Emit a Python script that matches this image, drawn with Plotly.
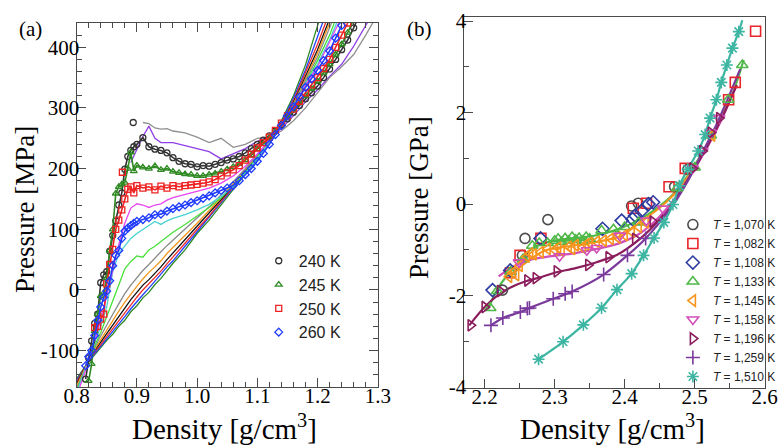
import plotly.graph_objects as go

# ---------------- Panel (a) data ----------------
XA = [0.80, 0.81, 0.82, 0.83, 0.84, 0.85, 0.86, 0.87, 0.88, 0.89, 0.90, 0.91, 0.92, 0.93, 0.94, 0.95, 0.96,
      0.98, 1.00, 1.02, 1.04, 1.06, 1.08, 1.10, 1.12, 1.14, 1.16, 1.18, 1.20, 1.22, 1.24, 1.26, 1.28, 1.30]

LINE_GREEN = [-146, -131, -118, -107, -95, -83, -73, -60, -50, -36, -26, -13, -4, 9, 19, 32, 44, 66, 93, 115,
              141, 165, 191, 216, 244, 279, 320, 371, 432, 500]
LINE_BLUE = [-149, -133, -118, -105, -93, -80, -68, -56, -44, -31, -19, -8, 3, 14, 26, 38, 48, 72, 96, 119,
             143, 168, 192, 218, 244, 276, 316, 363, 416, 472]
LINE_RED = [-152, -134, -117, -103, -90, -76, -63, -50, -38, -24, -12, 0, 10, 20, 31, 43, 54, 77, 100, 122,
            146, 170, 194, 219, 244, 274, 312, 357, 405, 458]
LINE_BLACK = [-155, -136, -116, -100, -86, -71, -57, -43, -30, -16, -4, 8, 17, 27, 38, 50, 61, 82, 104, 126,
              149, 172, 196, 220, 245, 273, 309, 352, 396, 447]
LINE_ORANGE = [-158, -137, -116, -98, -82, -65, -50, -35, -20, -6, 6, 18, 29, 38, 48, 60, 70, 89, 110, 131,
               152, 175, 198, 221, 245, 272, 307, 348, 390, 440, 495]
LINE_GRAY = [-162, -139, -115, -95, -76, -57, -40, -23, -6, 8, 20, 32, 42, 53, 63, 73, 82, 100, 118, 137,
             157, 178, 200, 223, 246, 271, 305, 345, 384, 432, 485]
LINE_LGREEN = [-166, -141, -116, -92, -70, -45, -20, 8, 35, 47, 56, 54, 66, 72, 80, 88, 95, 108, 122, 136,
               152, 172, 194, 219, 245, 270, 304, 342, 378, 420, 472]
LINE_CYAN = [-170, -143, -117, -88, -60, -28, 30, 60, 72, 85, 93, 100, 107, 113, 108, 114, 118, 124, 132, 141,
             154, 170, 192, 217, 244, 268, 303, 340, 372, 412, 460]
LINE_MAGENTA = [-175, -146, -118, -85, -50, -10, 35, 75, 110, 135, 142, 140, 136, 140, 142, 148, 152, 157, 162, 168,
                176, 188, 204, 224, 246, 266, 302, 338, 368, 408, 450]
LINE_PURPLE = [None, None, None, None, None, None, None, None, None, 210, 232, 253, 270, 250, 243, 243, 243, 238,
               233, 228, 216, 225, 233, 245, 253, 266, 287, 310, 330, 352, 372, 402, 436, 470]
LINE_GRAYTOP = [None, None, None, None, None, None, None, None, None, None, None, 276, 274, 267, 265, 266, 262, 259,
                252, 243, 250, 235, 240, 250, 252, 262, 279, 300, 326, 350, 368, 388, 420, 455]

XM = [0.815, 0.82, 0.825, 0.83, 0.835, 0.84, 0.845, 0.85, 0.855, 0.86, 0.865, 0.87, 0.875, 0.88, 0.885, 0.89, 0.895,
      0.90, 0.91, 0.92, 0.93, 0.94, 0.95, 0.96, 0.97, 0.98, 0.99, 1.00, 1.01, 1.02, 1.03, 1.04, 1.05, 1.06, 1.07,
      1.08, 1.09, 1.10, 1.11, 1.12, 1.13, 1.14, 1.15, 1.16, 1.17, 1.18, 1.19, 1.20, 1.21, 1.22, 1.23, 1.24, 1.25,
      1.26, 1.27]
P240 = [-147, -112, -84, -55, -40, 12, 25, 30, 64, 90, 114, 140, 160, 199, 220, 230, 236,
        240, 251, 236, 232, 230, 226, 218, 212, 208, 207, 203, 205, 204, 207, 210, 214, 216, 220,
        226, 233, 240, 247, 254, 262, 272, 282, 293, 304, 315, 325, 336, 350, 364, 380, 396, 412, 432, 455]
P245 = [None, -150, -122, -68, -40, -10, -5, 20, 65, 100, 159, 170, 174, 177, 200, 227, 196,
        205, 202, 200, 204, 198, 200, 195, 193, 191, 190, 188, 188, 190, 192, 195, 199, 203, 208,
        214, 222, 232, 241, 250, 261, 272, 284, 296, 308, 320, 332, 344, 358, 372, 388, 405, 424, 446, None]
P250 = [None, None, None, -62, -60, -48, -40, 10, 42, 67, 100, 115, 132, 150, 166, 170, 160,
        172, 168, 170, 165, 171, 168, 172, 170, 172, 173, 174, 176, 178, 182, 188, 193, 198, 205,
        214, 224, 234, 243, 252, 263, 275, 287, 298, 311, 325, 338, 350, 365, 380, 400, 420, 440, None, None]
P260 = [-125, -110, -100, -75, -50, -28, -12, -2, 15, 40, 57, 65, 85, 97, 102, 106, 110,
        113, 116, 119, 124, 125, 130, 134, 137, 140, 144, 147, 151, 155, 160, 164, 168, 172, 180,
        190, 200, 212, 225, 240, 256, 271, 287, 302, 318, 334, 348, 362, 378, 394, 415, 436, None, None, None]
# isolated outlying points
OUT240_X = [0.894]
OUT240_Y = [276]
OUT250_X = [0.876]
OUT250_Y = [194]

A_LABELS = ["240 K", "245 K", "250 K", "260 K"]
A_XTICKS = [0.8, 0.9, 1.0, 1.1, 1.2, 1.3]
A_YTICKS = [-100, 0, 100, 200, 300, 400]

# ---------------- Panel (b) data ----------------
B_1070_X = [2.2255, 2.2539, 2.2577, 2.2903, 2.4099, 2.4194, 2.4713, 2.4903]
B_1070_Y = [-1.88, -1.12, -0.75, -0.34, -0.04, 0.02, 0.38, 0.76]
B_1082_X = [2.237, 2.2506, 2.2804, 2.4123, 2.4312, 2.4634, 2.4865, 2.5485, 2.558, 2.587]
B_1082_Y = [-1.50, -1.12, -0.75, -0.09, 0.02, 0.38, 0.78, 2.28, 2.66, 3.78]
B_1108_X = [2.2113, 2.2365, 2.2799, 2.3684, 2.3957, 2.4113, 2.415, 2.424, 2.434, 2.4407]
B_1108_Y = [-1.88, -1.45, -0.75, -0.54, -0.36, -0.33, -0.25, -0.15, 0.0, 0.04]
B_1133_X = [2.208, 2.218, 2.237, 2.255, 2.268, 2.278, 2.29, 2.30, 2.305, 2.31, 2.315, 2.32, 2.325, 2.33, 2.335,
            2.34, 2.345, 2.35, 2.367, 2.384, 2.40, 2.42, 2.475, 2.50, 2.523, 2.548, 2.568]
B_1133_Y = [-2.27, -1.9, -1.48, -1.2, -0.91, -0.85, -0.85, -0.8, -0.76, -0.83, -0.75, -0.8, -0.72, -0.78, -0.74,
            -0.8, -0.72, -0.76, -0.58, -0.55, -0.5, -0.4, 0.35, 0.8, 1.5, 2.28, 3.04]
B_1133_LX = [2.205, 2.215, 2.225, 2.24, 2.255, 2.27, 2.29, 2.31, 2.33, 2.36, 2.39, 2.42, 2.445, 2.465, 2.48, 2.50,
             2.52, 2.54, 2.555, 2.57]
B_1133_LY = [-2.3, -1.95, -1.7, -1.42, -1.15, -0.95, -0.83, -0.77, -0.74, -0.68, -0.55, -0.35, -0.1, 0.15, 0.4,
             0.85, 1.35, 1.95, 2.45, 3.15]
B_1145_X = [2.235, 2.24, 2.245, 2.25, 2.26, 2.265, 2.27, 2.28, 2.29, 2.30, 2.305, 2.31, 2.32, 2.325, 2.33, 2.34,
            2.345, 2.35, 2.36, 2.37, 2.38, 2.39, 2.40, 2.41, 2.42, 2.43, 2.525]
B_1145_Y = [-1.59, -1.5, -1.55, -1.35, -1.15, -1.08, -1.1, -1.05, -0.98, -1.0, -0.95, -1.02, -0.93, -0.98, -0.9,
            -0.95, -0.88, -0.85, -0.82, -0.8, -0.76, -0.73, -0.68, -0.6, -0.5, -0.4, 1.5]
B_1145_LX = [2.235, 2.24, 2.263, 2.287, 2.311, 2.358, 2.396, 2.419, 2.44, 2.46, 2.48, 2.50, 2.52, 2.54, 2.56]
B_1145_LY = [-1.6, -1.52, -1.23, -1.01, -0.94, -0.83, -0.69, -0.43, -0.2, 0.05, 0.38, 0.82, 1.35, 1.95, 2.6]
B_1158_X = [2.249, 2.307, 2.346, 2.36, 2.393, 2.431, 2.455, 2.497, 2.511, 2.523, 2.535]
B_1158_Y = [-1.27, -1.14, -1.01, -0.96, -0.69, -0.36, -0.1, 0.78, 1.16, 1.56, 1.88]
B_1158_LX = [2.22, 2.235, 2.25, 2.27, 2.29, 2.31, 2.33, 2.36, 2.39, 2.42, 2.44, 2.46, 2.48, 2.50, 2.52, 2.54, 2.56]
B_1158_LY = [-1.58, -1.42, -1.3, -1.2, -1.15, -1.11, -1.07, -0.98, -0.87, -0.66, -0.42, -0.1, 0.3, 0.78, 1.3,
             1.9, 2.6]
B_1196_X = [2.180, 2.200, 2.222, 2.261, 2.273, 2.303, 2.348, 2.377, 2.415, 2.440, 2.497, 2.511, 2.523, 2.535]
B_1196_Y = [-2.65, -2.25, -1.9, -1.67, -1.62, -1.47, -1.33, -1.16, -0.76, -0.38, 0.78, 1.16, 1.56, 1.88]
B_1196_LX = [2.178, 2.20, 2.22, 2.24, 2.26, 2.28, 2.30, 2.33, 2.36, 2.39, 2.42, 2.44, 2.46, 2.48, 2.50, 2.52,
             2.54, 2.56]
B_1196_LY = [-2.65, -2.25, -1.98, -1.8, -1.68, -1.6, -1.5, -1.4, -1.27, -1.1, -0.78, -0.5, -0.15, 0.28, 0.78,
             1.32, 1.92, 2.6]
B_1259_X = [2.209, 2.226, 2.251, 2.261, 2.264, 2.298, 2.315, 2.325, 2.370, 2.404, 2.430]
B_1259_Y = [-2.65, -2.49, -2.36, -2.28, -2.27, -2.07, -1.96, -1.91, -1.54, -1.12, -0.75]
B_1259_LX = [2.209, 2.226, 2.251, 2.264, 2.298, 2.325, 2.37, 2.404, 2.43, 2.45, 2.47, 2.49, 2.51, 2.53, 2.55, 2.565]
B_1259_LY = [-2.65, -2.49, -2.36, -2.27, -2.07, -1.91, -1.54, -1.12, -0.75, -0.4, 0.0, 0.5, 1.1, 1.7, 2.4, 2.95]
B_1510_X = [2.277, 2.312, 2.341, 2.367, 2.389, 2.410, 2.427, 2.442, 2.456, 2.469, 2.478, 2.490, 2.505, 2.515,
            2.522, 2.531, 2.538, 2.546, 2.554, 2.563]
B_1510_Y = [-3.39, -3.01, -2.64, -2.27, -1.87, -1.52, -1.12, -0.74, -0.40, -0.01, 0.40, 0.76, 1.16, 1.52, 1.88,
            2.28, 2.66, 3.04, 3.41, 3.77]
B_1510_LX = [2.277, 2.312, 2.341, 2.367, 2.389, 2.410, 2.427, 2.442, 2.456, 2.469, 2.478, 2.490, 2.505, 2.515,
             2.522, 2.531, 2.538, 2.546, 2.554, 2.563, 2.568]
B_1510_LY = [-3.39, -3.01, -2.64, -2.27, -1.87, -1.52, -1.12, -0.74, -0.40, -0.01, 0.40, 0.76, 1.16, 1.52, 1.88,
             2.28, 2.66, 3.04, 3.41, 3.77, 4.02]

B_LABELS = ["1,070", "1,082", "1,108", "1,133", "1,145", "1,158", "1,196", "1,259", "1,510"]
B_XTICKS = [2.2, 2.3, 2.4, 2.5, 2.6]
B_YTICKS = [-4, -2, 0, 2, 4]

# ---------------- figure ----------------
SERIF = "Liberation Serif, Times New Roman, serif"
NARROW = "Liberation Sans Narrow, Arial Narrow, Liberation Sans, sans-serif"
AX = "#4a4a4a"

fig = go.Figure()

def a_line(y, color, width=1.3):
    fig.add_trace(go.Scatter(x=XA[:len(y)], y=y, mode="lines", line=dict(color=color, width=width),
                             showlegend=False, hoverinfo="skip", xaxis="x", yaxis="y"))

a_line(LINE_GREEN, "#2f8a24")
a_line(LINE_BLUE, "#2040ff")
a_line(LINE_RED, "#ee2a2a")
a_line(LINE_BLACK, "#111111")
a_line(LINE_ORANGE, "#f5961e")
a_line(LINE_GRAY, "#8a8a8a")
a_line(LINE_LGREEN, "#48e03a")
a_line(LINE_CYAN, "#48d2d2")
a_line(LINE_MAGENTA, "#e646ee")
a_line(LINE_PURPLE, "#9040e6")
a_line(LINE_GRAYTOP, "#909090")

a_marker_series = [
    (P240, "#333333", "circle-open", A_LABELS[0], OUT240_X, OUT240_Y),
    (P245, "#2f8a24", "triangle-up-open", A_LABELS[1], [], []),
    (P250, "#ee2222", "square-open", A_LABELS[2], OUT250_X, OUT250_Y),
    (P260, "#1f3cff", "diamond-open", A_LABELS[3], [], []),
]
for ys, col, sym, lab, ox, oy in a_marker_series:
    fig.add_trace(go.Scatter(x=XM, y=ys, mode="lines", line=dict(color=col, width=1.6),
                             showlegend=False, hoverinfo="skip", xaxis="x", yaxis="y"))
    fig.add_trace(go.Scatter(x=XM + ox, y=ys + oy, mode="markers", name=lab,
                             marker=dict(symbol=sym, size=6, color=col, line=dict(width=1.3, color=col)),
                             xaxis="x", yaxis="y", legend="legend"))

# panel (b) fitted lines
b_lines = [
    (B_1133_LX, B_1133_LY, "#4fb848"),
    (B_1145_LX, B_1145_LY, "#f7941d"),
    (B_1158_LX, B_1158_LY, "#d24fb8"),
    (B_1196_LX, B_1196_LY, "#8b1d5c"),
    (B_1259_LX, B_1259_LY, "#7a3a9c"),
    (B_1510_LX, B_1510_LY, "#3db5a3"),
]
for lx, ly, col in b_lines:
    fig.add_trace(go.Scatter(x=lx, y=ly, mode="lines", line=dict(color=col, width=2.2, shape="spline", smoothing=0.8),
                             showlegend=False, hoverinfo="skip", xaxis="x2", yaxis="y2"))

b_markers = [
    (B_1070_X, B_1070_Y, "#4d4d4d", "circle-open", B_LABELS[0]),
    (B_1082_X, B_1082_Y, "#e8242a", "square-open", B_LABELS[1]),
    (B_1108_X, B_1108_Y, "#2b3aa0", "diamond-open", B_LABELS[2]),
    (B_1133_X, B_1133_Y, "#4fb848", "triangle-up-open", B_LABELS[3]),
    (B_1145_X, B_1145_Y, "#f7941d", "triangle-left-open", B_LABELS[4]),
    (B_1158_X, B_1158_Y, "#d24fb8", "triangle-down-open", B_LABELS[5]),
    (B_1196_X, B_1196_Y, "#8b1d5c", "triangle-right-open", B_LABELS[6]),
    (B_1259_X, B_1259_Y, "#7a3a9c", "cross-thin-open", B_LABELS[7]),
    (B_1510_X, B_1510_Y, "#3db5a3", "asterisk-open", B_LABELS[8]),
]
for bx, by, col, sym, lab in b_markers:
    fig.add_trace(go.Scatter(x=bx, y=by, mode="markers", name="<i>T</i> = " + lab + " K",
                             marker=dict(symbol=sym, size=10, color=col, line=dict(width=1.6, color=col)),
                             xaxis="x2", yaxis="y2", legend="legend2"))

tick_font = dict(family=SERIF, size=21, color="black")
xtitle_font = dict(family=SERIF, size=29, color="black")
ytitle_font = dict(family=SERIF, size=27, color="black")

common = dict(ticks="inside", tickcolor=AX, tickwidth=1.2, showline=True, linecolor=AX, linewidth=1.3,
              showgrid=False, zeroline=False, tickfont=tick_font, tickmode="array", ticklen=9,
              automargin=False, ticklabeloverflow="allow")

fig.update_layout(
    template="none",
    width=781, height=445,
    margin=dict(l=0, r=0, t=0, b=0, pad=0),
    paper_bgcolor="white", plot_bgcolor="white",
    xaxis=dict(domain=[0.0986, 0.4866], anchor="y", range=[0.8, 1.3005],
               tickvals=A_XTICKS, ticktext=["%.1f" % v for v in A_XTICKS], mirror="allticks",
               minor=dict(tickmode="linear", tick0=0.8, dtick=0.02, ticks="inside", ticklen=5, tickcolor=AX),
               ticklabelstandoff=-10, **common),
    yaxis=dict(domain=[0.1303, 0.9483], anchor="x", range=[-160, 440],
               tickvals=A_YTICKS, ticktext=[str(v) for v in A_YTICKS], mirror="allticks",
               minor=dict(tickmode="linear", tick0=0, dtick=20, ticks="inside", ticklen=5, tickcolor=AX),
               ticklabelstandoff=-8, **common),
    xaxis2=dict(domain=[0.5967, 0.9846], anchor="y2", range=[2.17, 2.6005],
                tickvals=B_XTICKS, ticktext=["%.1f" % v for v in B_XTICKS], mirror=True,
                minor=dict(tickmode="linear", tick0=2.2, dtick=0.05, ticks="inside", ticklen=5, tickcolor=AX),
                ticklabelstandoff=-10, **common),
    yaxis2=dict(domain=[0.1281, 0.9618], anchor="x2", range=[-4.02, 4.09],
                tickvals=B_YTICKS, ticktext=[str(v) for v in B_YTICKS], mirror=True,
                minor=dict(tickmode="linear", tick0=0, dtick=1, ticks="inside", ticklen=5, tickcolor=AX),
                ticklabelstandoff=-8, **common),
    legend=dict(x=0.333, y=0.452, xanchor="left", yanchor="top", bgcolor="rgba(0,0,0,0)",
                font=dict(family=NARROW, size=16, color="#222"), itemwidth=30, tracegroupgap=0),
    legend2=dict(x=0.866, y=0.528, xanchor="left", yanchor="top", bgcolor="rgba(0,0,0,0)",
                 font=dict(family=NARROW, size=12, color="#222"), itemwidth=30, tracegroupgap=0),
    annotations=[
        dict(text="(a)", x=0.022, y=0.966, xref="paper", yref="paper", showarrow=False,
             font=dict(family=SERIF, size=21, color="black")),
        dict(text="(b)", x=0.540, y=0.966, xref="paper", yref="paper", showarrow=False,
             font=dict(family=SERIF, size=21, color="black")),
        dict(text="Density [g/cm<sup>3</sup>]", x=0.2894, y=0.040, xref="paper", yref="paper",
             xanchor="center", yanchor="middle", showarrow=False, font=xtitle_font),
        dict(text="Density [g/cm<sup>3</sup>]", x=0.7887, y=0.040, xref="paper", yref="paper",
             xanchor="center", yanchor="middle", showarrow=False, font=xtitle_font),
        dict(text="Pressure [MPa]", x=0.032, y=0.530, xref="paper", yref="paper", textangle=-90,
             xanchor="center", yanchor="middle", showarrow=False, font=ytitle_font),
        dict(text="Pressure [GPa]", x=0.539, y=0.557, xref="paper", yref="paper", textangle=-90,
             xanchor="center", yanchor="middle", showarrow=False, font=ytitle_font),
    ],
)

fig.write_html("out.html", config={"displayModeBar": False},
               post_script="document.body.style.margin='0';")
